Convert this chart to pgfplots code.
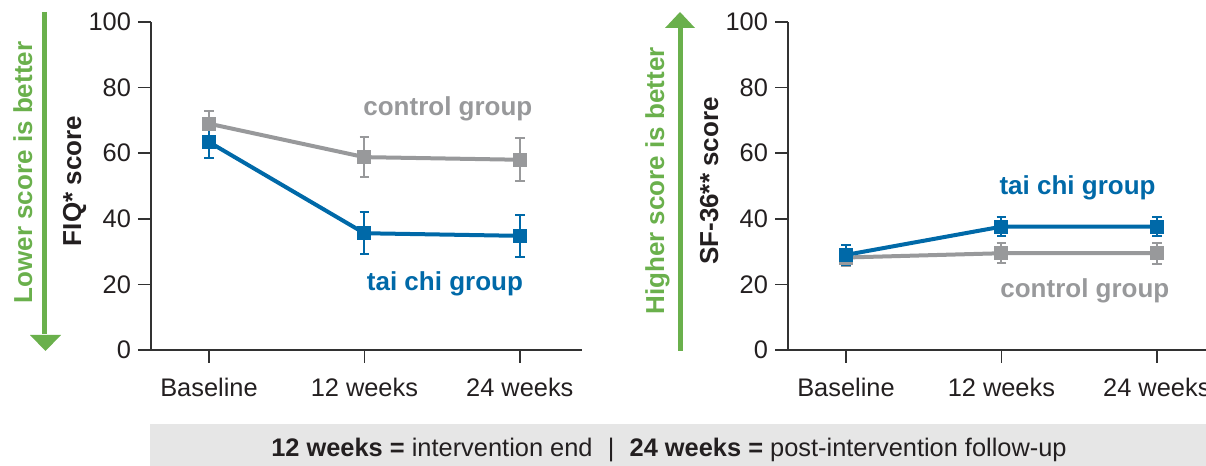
\documentclass[border=0pt]{standalone}
\usepackage{pgfplots}
\pgfplotsset{compat=1.18}
\usepackage{fontspec}
\setmainfont{Liberation Sans}
\definecolor{tcblue}{RGB}{0,105,168}
\definecolor{ctgray}{RGB}{152,153,155}
\definecolor{arrowgreen}{RGB}{106,176,76}
\definecolor{axisdark}{RGB}{50,50,50}
\definecolor{txtdark}{RGB}{35,31,32}
\definecolor{boxgray}{RGB}{230,230,230}
\pgfplotsset{
  myaxis/.style={
    scale only axis, width=215.5pt, height=164pt,
    xmin=-0.373, xmax=2.4, ymin=0, ymax=100,
    axis x line*=bottom, axis y line*=left,
    axis line style={axisdark, line width=0.75pt},
    xtick={0,1,2}, xticklabels={Baseline,12 weeks,24 weeks},
    ytick={0,20,40,60,80,100},
    tick align=outside, major tick length=6.5pt,
    tick style={axisdark, line width=0.75pt},
    tick label style={font=\fontsize{12.7}{15}\selectfont, text=txtdark},
    xticklabel style={yshift=-4pt},
    /pgf/number format/assume math mode=true,
    clip=false,
  },
  ser/.style={line width=2pt, mark=square*, mark size=2.5pt, mark options={solid},
    error bars/y dir=both, error bars/y explicit,
    error bars/error bar style={line width=1pt},
    error bars/error mark options={rotate=90, mark size=2.4pt, line width=1pt}},
}
\begin{document}
\begin{tikzpicture}[x=1pt,y=1pt]
% footer box
\fill[boxgray] (75,0) rectangle (603,21);
\node[anchor=base, text=txtdark, font=\fontsize{12.7}{15}\selectfont, inner sep=0pt] at (334.5,4.5)
  {\textbf{12 weeks =} intervention end\hspace{0.6em}|\hspace{0.6em}\textbf{24 weeks =} post-intervention follow-up};
% left green arrow
\draw[arrowgreen, line width=2.5pt] (22.25,227) -- (22.25,66);
\fill[arrowgreen] (15,65.5) -- (30.5,65.5) -- (22.75,57.5) -- cycle;
\node[rotate=90, anchor=base, inner sep=0pt, text=arrowgreen, font=\bfseries\fontsize{13}{15}\selectfont] at (16,146.75) {Lower score is better};
\node[rotate=90, anchor=base, inner sep=0pt, text=txtdark, font=\bfseries\fontsize{13}{15}\selectfont] at (40.5,142.5) {FIQ* score};
% right green arrow
\draw[arrowgreen, line width=2.5pt] (340,57.5) -- (340,219.5);
\fill[arrowgreen] (332.5,219) -- (347.5,219) -- (340,227) -- cycle;
\node[rotate=90, anchor=base, inner sep=0pt, text=arrowgreen, font=\bfseries\fontsize{13}{15}\selectfont] at (332,142.5) {Higher score is better};
\node[rotate=90, anchor=base, inner sep=0pt, text=txtdark, font=\bfseries\fontsize{13}{15}\selectfont] at (359,142.5) {SF-36** score};

\begin{axis}[myaxis, at={(75.5pt,58pt)}, anchor=south west]
\addplot[ctgray, ser] coordinates {(0,69) +- (0,4) (1,58.8) +- (0,6.2) (2,58) +- (0,6.5)};
\addplot[tcblue, ser] coordinates {(0,63.4) +- (0,4.9) (1,35.6) +- (0,6.4) (2,34.8) +- (0,6.4)};
\node[anchor=base, inner sep=0pt, text=ctgray, font=\bfseries\fontsize{13}{15}\selectfont] at (axis cs:1.537,71.6) {control group};
\node[anchor=base, inner sep=0pt, text=tcblue, font=\bfseries\fontsize{13}{15}\selectfont] at (axis cs:1.518,18.0) {tai chi group};
\end{axis}

\begin{axis}[myaxis, at={(394pt,58pt)}, anchor=south west]
\addplot[ctgray, ser] coordinates {(0,28.2) +- (0,2.5) (1,29.5) +- (0,3) (2,29.5) +- (0,3.2)};
\addplot[tcblue, ser] coordinates {(0,29) +- (0,3) (1,37.6) +- (0,2.8) (2,37.6) +- (0,2.8)};
\node[anchor=base, inner sep=0pt, text=tcblue, font=\bfseries\fontsize{13}{15}\selectfont] at (axis cs:1.49,47.3) {tai chi group};
\node[anchor=base, inner sep=0pt, text=ctgray, font=\bfseries\fontsize{13}{15}\selectfont] at (axis cs:1.537,15.9) {control group};
\end{axis}
\pgfresetboundingbox
\useasboundingbox (0,0) rectangle (603,233);
\end{tikzpicture}
\end{document}
